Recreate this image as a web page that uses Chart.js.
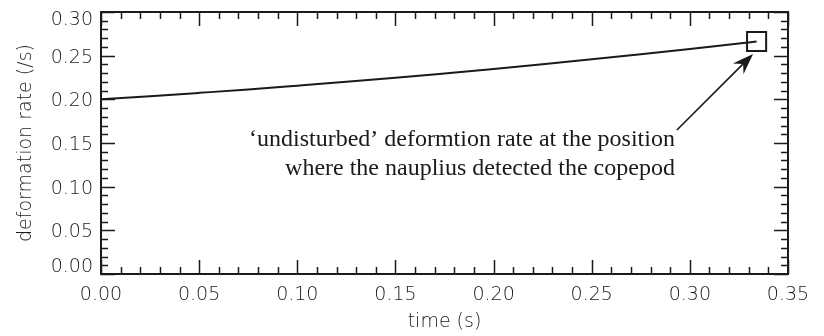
<!DOCTYPE html>
<html>
<head>
<meta charset="utf-8">
<script src="https://cdn.jsdelivr.net/npm/chart.js@4.4.0/dist/chart.umd.min.js"></script>
<style>
  html, body { margin: 0; padding: 0; background: #fff; }
  #wrap { width: 824px; height: 336px; }
</style>
</head>
<body>
<div id="wrap"><canvas id="rateChart" width="824" height="336"></canvas></div>
<script>
// deformation rate felt along the approach
const timeS = [0.000, 0.025, 0.050, 0.075, 0.100, 0.125, 0.150, 0.175, 0.200, 0.225, 0.250, 0.275, 0.300, 0.325, 0.334];
const deformRate = [0.2000, 0.2036, 0.2074, 0.2113, 0.2156, 0.2200, 0.2247, 0.2297, 0.2348, 0.2402, 0.2458, 0.2516, 0.2577, 0.2640, 0.2662];

// the moment of detection
const detectTime = [0.334];
const detectRate = [0.2662];

const xTickValues = [0.00, 0.05, 0.10, 0.15, 0.20, 0.25, 0.30, 0.35];
const yTickValues = [0.00, 0.05, 0.10, 0.15, 0.20, 0.25, 0.30];
const minorPerMajor = 5;

const noteLines = [
  '\u2018undisturbed\u2019 deformtion rate at the position',
  'where the nauplius detected the copepod'
];
// arrow from the note up to the square (data units)
const arrowFrom = [0.2934, 0.1649];
const arrowTo = [0.3322, 0.2519];

const ink = '#1a1a1a';
const axisFont = { family: 'DejaVu Sans', size: 19, weight: 200 };

// end labels of the y axis sit inside the frame: pad them with an empty line
function yLabel(v, i) {
  const s = v.toFixed(2);
  if (i === 0) return [s, ''];
  if (i === yTickValues.length - 1) return ['', s];
  return s;
}
function yFont(c) {
  let lh = 1.2;
  if (c.index === 0) lh = 0.95;
  if (c.index === yTickValues.length - 1) lh = 0.63;
  return Object.assign({}, axisFont, { lineHeight: lh });
}

// frame plus inward major/minor ticks on all four sides
const frameTicks = {
  id: 'frameTicks',
  afterDraw(chart) {
    const { ctx, chartArea: a, scales } = chart;
    ctx.save();
    ctx.strokeStyle = ink;
    ctx.lineWidth = 1.5;
    ctx.beginPath();
    for (let i = 0; i < xTickValues.length; i++) {
      const v0 = xTickValues[i];
      const step = i + 1 < xTickValues.length ? (xTickValues[i + 1] - v0) / minorPerMajor : 0;
      for (let k = 0; k < (step ? minorPerMajor : 1); k++) {
        const px = Math.round(scales.x.getPixelForValue(v0 + k * step)) + 0.5;
        const len = k === 0 ? 14 : 7;
        ctx.moveTo(px, a.bottom); ctx.lineTo(px, a.bottom - len);
        ctx.moveTo(px, a.top); ctx.lineTo(px, a.top + len);
      }
    }
    for (let i = 0; i < yTickValues.length; i++) {
      const v0 = yTickValues[i];
      const step = i + 1 < yTickValues.length ? (yTickValues[i + 1] - v0) / minorPerMajor : 0;
      for (let k = 0; k < (step ? minorPerMajor : 1); k++) {
        const py = Math.round(scales.y.getPixelForValue(v0 + k * step)) + 0.5;
        const len = k === 0 ? 14 : 7;
        ctx.moveTo(a.left, py); ctx.lineTo(a.left + len, py);
        ctx.moveTo(a.right, py); ctx.lineTo(a.right - len, py);
      }
    }
    ctx.stroke();
    ctx.lineWidth = 2;
    ctx.strokeRect(a.left, a.top, a.right - a.left, a.bottom - a.top);
    ctx.restore();
  }
};

// text note and arrow pointing at the detection square
const notePlugin = {
  id: 'note',
  afterDraw(chart) {
    const { ctx, scales } = chart;
    const x0 = scales.x.getPixelForValue(arrowFrom[0]);
    const y0 = scales.y.getPixelForValue(arrowFrom[1]);
    const x1 = scales.x.getPixelForValue(arrowTo[0]);
    const y1 = scales.y.getPixelForValue(arrowTo[1]);
    ctx.save();
    ctx.fillStyle = ink;
    ctx.font = '24px "Liberation Serif"';
    ctx.textAlign = 'right';
    ctx.textBaseline = 'alphabetic';
    ctx.fillText(noteLines[0], x0 - 2, y0 + 16);
    ctx.fillText(noteLines[1], x0 - 2, y0 + 45);

    const ang = Math.atan2(y1 - y0, x1 - x0);
    const headLen = 21, headHalf = 7.5, notch = 14;
    ctx.strokeStyle = ink;
    ctx.lineWidth = 1.6;
    ctx.beginPath();
    ctx.moveTo(x0, y0);
    ctx.lineTo(x1 - notch * Math.cos(ang), y1 - notch * Math.sin(ang));
    ctx.stroke();
    const bx = x1 - headLen * Math.cos(ang), by = y1 - headLen * Math.sin(ang);
    const nx = -Math.sin(ang), ny = Math.cos(ang);
    ctx.beginPath();
    ctx.moveTo(x1, y1);
    ctx.lineTo(bx + nx * headHalf, by + ny * headHalf);
    ctx.lineTo(x1 - notch * Math.cos(ang), y1 - notch * Math.sin(ang));
    ctx.lineTo(bx - nx * headHalf, by - ny * headHalf);
    ctx.closePath();
    ctx.fill();
    ctx.restore();
  }
};

new Chart(document.getElementById('rateChart'), {
  type: 'line',
  data: {
    datasets: [
      {
        data: timeS.map((t, i) => ({ x: t, y: deformRate[i] })),
        borderColor: ink,
        borderWidth: 2,
        pointRadius: 0,
        cubicInterpolationMode: 'monotone'
      },
      {
        data: detectTime.map((t, i) => ({ x: t, y: detectRate[i] })),
        showLine: false,
        pointStyle: 'rect',
        pointRadius: 13.5,
        pointBorderWidth: 2,
        pointBorderColor: ink,
        pointBackgroundColor: 'rgba(0,0,0,0)'
      }
    ]
  },
  options: {
    responsive: false,
    animation: false,
    layout: { autoPadding: false, padding: { top: 12, right: 36, left: 0, bottom: 0 } },
    plugins: { legend: { display: false }, tooltip: { enabled: false } },
    scales: {
      x: {
        type: 'linear',
        min: 0,
        max: 0.35,
        afterBuildTicks: s => { s.ticks = xTickValues.map(v => ({ value: v })); },
        afterFit: s => { s.height = 62; s.paddingLeft = 0; s.paddingRight = 0; },
        grid: { display: false, drawTicks: false },
        border: { display: false },
        ticks: { callback: v => v.toFixed(2), font: axisFont, color: ink, padding: 10, maxRotation: 0, autoSkip: false },
        title: { display: true, text: 'time (s)', font: axisFont, color: ink, padding: { top: 0, bottom: 3 } }
      },
      y: {
        type: 'linear',
        min: 0,
        max: 0.30,
        afterBuildTicks: s => { s.ticks = yTickValues.map(v => ({ value: v })); },
        afterFit: s => { s.width = 101; s.paddingTop = 0; s.paddingBottom = 0; },
        grid: { display: false, drawTicks: false },
        border: { display: false },
        ticks: { callback: (v, i) => yLabel(v, i), font: yFont, color: ink, padding: 8, labelOffset: 2, autoSkip: false },
        title: { display: true, text: 'deformation rate (/s)', font: axisFont, color: ink, padding: { top: 15, bottom: 0 } }
      }
    }
  },
  plugins: [frameTicks, notePlugin]
});
</script>
</body>
</html>
